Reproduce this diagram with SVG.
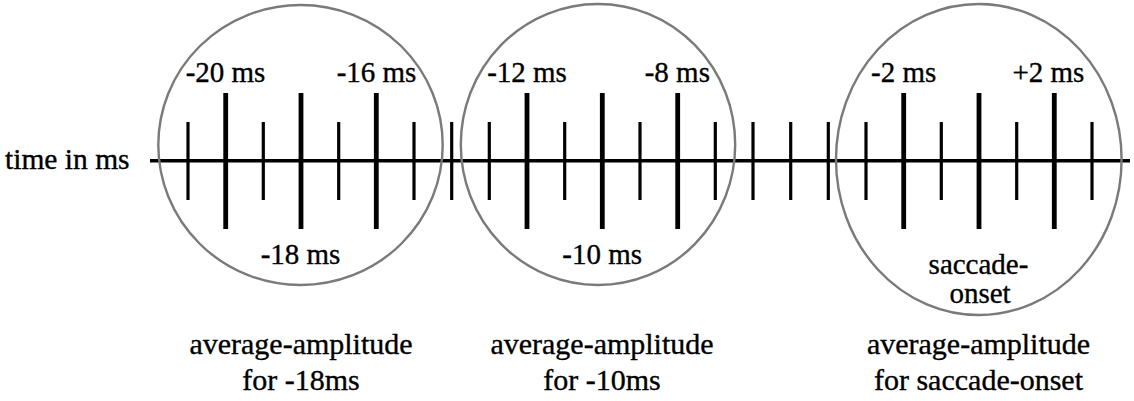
<svg xmlns="http://www.w3.org/2000/svg" width="1134" height="401" viewBox="0 0 1134 401" font-family="'Liberation Serif', 'DejaVu Serif', serif">
<style>
text{font-family:'Liberation Serif','DejaVu Serif','Times New Roman',serif;fill:#000;stroke:#000;stroke-width:0.35}
.lbl{font-size:29px;text-anchor:middle}
.bot{font-size:30px;text-anchor:middle}
.sm{stroke:#000;stroke-width:3.2}
.bg{stroke:#000;stroke-width:4.8}
.win{fill:none;stroke:#7a7a7a;stroke-width:2.4}
</style>
<rect width="1134" height="401" fill="#fff"/>
<g id="axis">
<line x1="150" y1="160.7" x2="1130" y2="160.7" stroke="#000" stroke-width="3.4"/>
<text x="5" y="168.5" font-size="29.5">time in ms</text>
</g>
<g id="ticks">
<line class="sm" x1="188" y1="122" x2="188" y2="200"/>
<line class="bg" x1="225.7" y1="93" x2="225.7" y2="229"/>
<line class="sm" x1="263.3" y1="122" x2="263.3" y2="200"/>
<line class="bg" x1="301" y1="93" x2="301" y2="229"/>
<line class="sm" x1="338.7" y1="122" x2="338.7" y2="200"/>
<line class="bg" x1="376.3" y1="93" x2="376.3" y2="229"/>
<line class="sm" x1="414" y1="122" x2="414" y2="200"/>
<line class="sm" x1="451.7" y1="122" x2="451.7" y2="200"/>
<line class="sm" x1="489.3" y1="122" x2="489.3" y2="200"/>
<line class="bg" x1="527" y1="93" x2="527" y2="229"/>
<line class="sm" x1="564.7" y1="122" x2="564.7" y2="200"/>
<line class="bg" x1="602.3" y1="93" x2="602.3" y2="229"/>
<line class="sm" x1="640" y1="122" x2="640" y2="200"/>
<line class="bg" x1="677.7" y1="93" x2="677.7" y2="229"/>
<line class="sm" x1="715.3" y1="122" x2="715.3" y2="200"/>
<line class="sm" x1="753" y1="122" x2="753" y2="200"/>
<line class="sm" x1="790.7" y1="122" x2="790.7" y2="200"/>
<line class="sm" x1="828.3" y1="122" x2="828.3" y2="200"/>
<line class="sm" x1="866" y1="122" x2="866" y2="200"/>
<line class="bg" x1="903.7" y1="93" x2="903.7" y2="229"/>
<line class="sm" x1="941.3" y1="122" x2="941.3" y2="200"/>
<line class="bg" x1="979" y1="93" x2="979" y2="229"/>
<line class="sm" x1="1016.7" y1="122" x2="1016.7" y2="200"/>
<line class="bg" x1="1054.3" y1="93" x2="1054.3" y2="229"/>
<line class="sm" x1="1092" y1="122" x2="1092" y2="200"/>
</g>
<g id="window-18">
<ellipse class="win" cx="300.5" cy="145" rx="142.2" ry="140"/>
<text class="lbl" x="225.5" y="81.7">-20 ms</text>
<text class="lbl" x="376.5" y="81.7">-16 ms</text>
<text class="lbl" x="300.5" y="263.5">-18 ms</text>
<text class="bot" x="301" y="354">average-amplitude</text>
<text class="bot" x="301" y="389.5">for -18ms</text>
</g>
<g id="window-10">
<ellipse class="win" cx="598" cy="144.5" rx="137.2" ry="140.5"/>
<text class="lbl" x="527" y="81.7">-12 ms</text>
<text class="lbl" x="677.3" y="81.7">-8 ms</text>
<text class="lbl" x="602.2" y="263.5">-10 ms</text>
<text class="bot" x="602" y="354">average-amplitude</text>
<text class="bot" x="602" y="389.5">for -10ms</text>
</g>
<g id="window-onset">
<ellipse class="win" cx="978.8" cy="159.5" rx="142.8" ry="155.5"/>
<text class="lbl" x="903.7" y="81.7">-2 ms</text>
<text class="lbl" x="1048.4" y="81.7">+2 ms</text>
<text class="lbl" x="978.5" y="274">saccade-</text>
<text class="lbl" x="980" y="303">onset</text>
<text class="bot" x="978.5" y="354">average-amplitude</text>
<text class="bot" x="978.5" y="389.5">for saccade-onset</text>
</g>
</svg>
